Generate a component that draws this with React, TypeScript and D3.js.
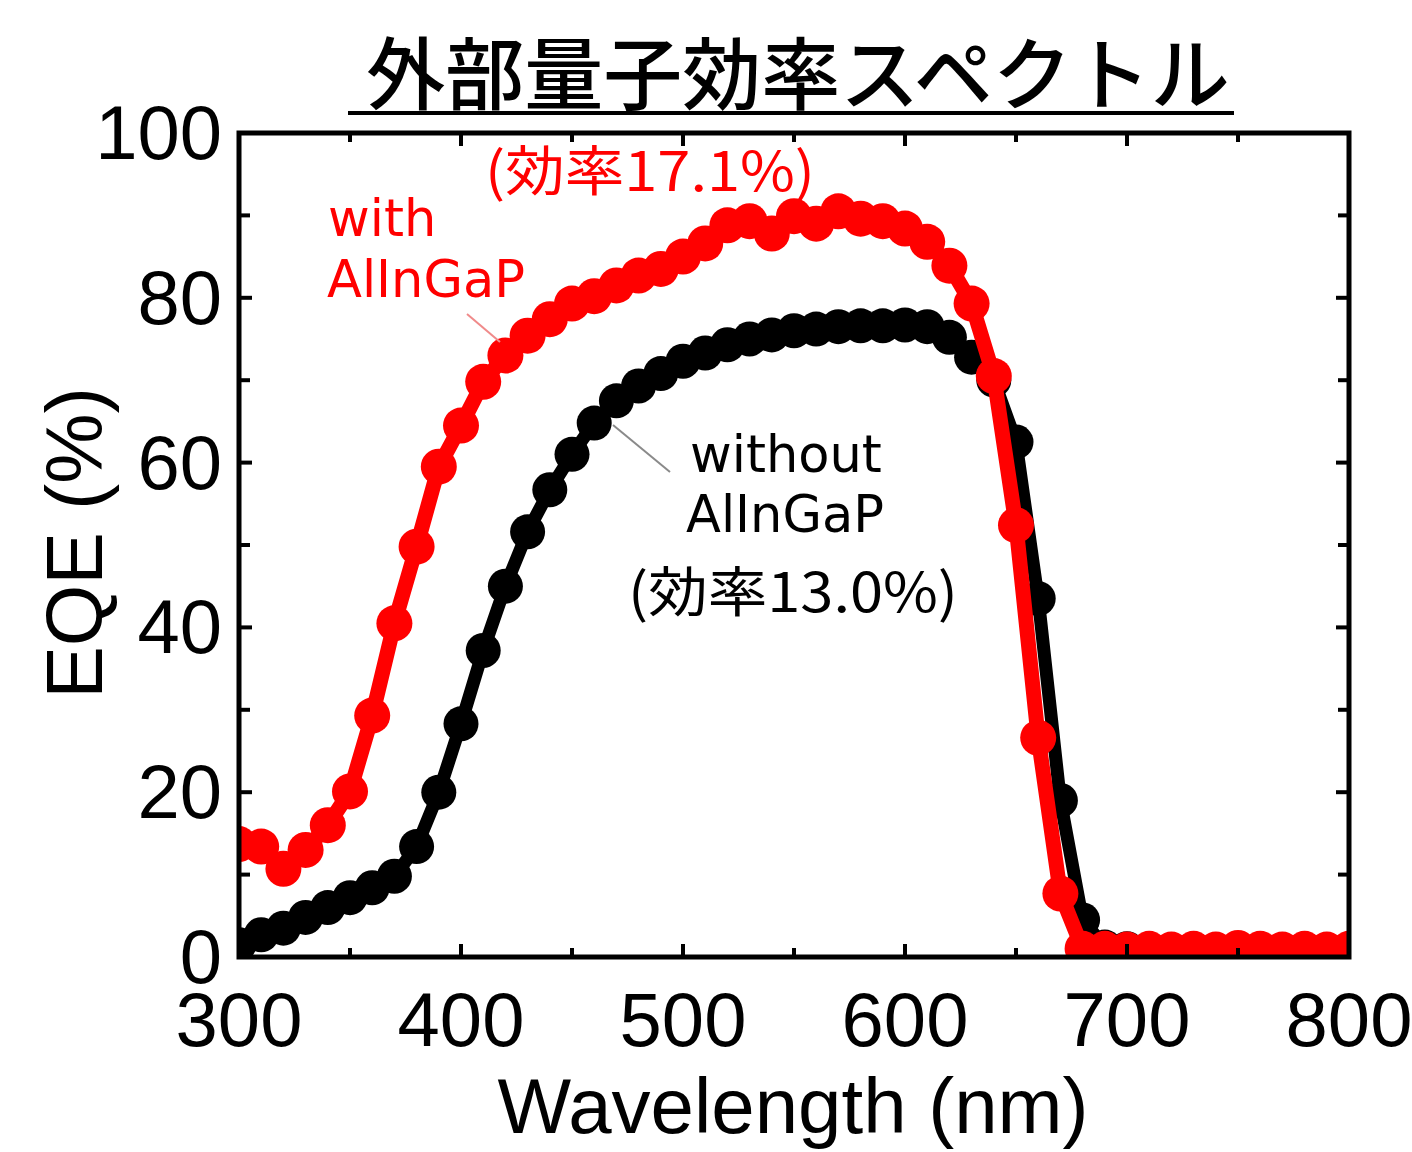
import React, { useEffect, useRef } from 'react';
import * as d3 from 'd3';

// wavelength grid (nm), 10 nm steps
const wavelengths = d3.range(300, 801, 10);

// EQE (%) with AlInGaP
const eqeWith = [
  13.7, 13.4, 10.7, 13.0, 16.0, 20.1, 29.3, 40.5, 49.8, 59.5,
  64.5, 69.8, 73.0, 75.4, 77.4, 79.3, 80.2, 81.5, 82.7, 83.5,
  85.0, 86.6, 88.8, 89.3, 87.8, 89.9, 89.0, 90.5, 89.6, 89.3,
  88.4, 86.8, 83.9, 79.3, 70.5, 52.4, 26.6, 7.7, 1.0, 1.0,
  0.9, 1.0, 0.9, 1.0, 0.9, 1.1, 1.0, 0.9, 1.0, 0.9, 1.0,
];

// EQE (%) without AlInGaP
const eqeWithout = [
  1.5, 2.7, 3.5, 4.8, 6.0, 7.2, 8.4, 9.8, 13.4, 20.0,
  28.3, 37.2, 45.0, 51.6, 56.7, 61.0, 64.8, 67.5, 69.3, 70.8,
  72.3, 73.3, 74.3, 75.0, 75.5, 76.0, 76.2, 76.5, 76.6, 76.6,
  76.7, 76.5, 75.2, 72.8, 70.0, 62.5, 43.5, 19.0, 4.5, 1.2,
  1.0, 0.8, 0.6, 0.6, 0.6, 0.6, 0.6, 0.6, 0.6, 0.6, 0.6,
];

const xMajor = [300, 400, 500, 600, 700, 800];
const xMinor = [350, 450, 550, 650, 750];
const yMajor = [0, 20, 40, 60, 80, 100];
const yMinor = [10, 30, 50, 70, 90];

const TITLE = '外部量子効率スペクトル';
const X_LABEL = 'Wavelength (nm)';
const Y_LABEL = 'EQE (%)';

const W = 1412;
const H = 1152;
const PLOT = { left: 239, right: 1349, top: 133, bottom: 957 };
const LATIN = '"Liberation Sans", Arial, sans-serif';
const VERDANA = '"DejaVu Sans", Verdana, sans-serif';
const CJK = '"Noto Sans CJK JP", "Noto Sans CJK SC", sans-serif';

const App: React.FC = () => {
  const svgRef = useRef<SVGSVGElement>(null);

  useEffect(() => {
    const svg = d3.select(svgRef.current);
    svg.selectAll('*').remove();

    const x = d3.scaleLinear().domain([300, 800]).range([PLOT.left, PLOT.right]);
    const y = d3.scaleLinear().domain([0, 100]).range([PLOT.bottom, PLOT.top]);

    svg.append('rect').attr('width', W).attr('height', H).attr('fill', '#fff');

    // clip to plot frame
    svg.append('defs').append('clipPath').attr('id', 'plot-clip')
      .append('rect')
      .attr('x', PLOT.left).attr('y', PLOT.top)
      .attr('width', PLOT.right - PLOT.left).attr('height', PLOT.bottom - PLOT.top);

    const plot = svg.append('g').attr('clip-path', 'url(#plot-clip)');

    const series = [
      { values: eqeWithout, color: '#000000', lw: 13, r: 17.5 },
      { values: eqeWith, color: '#ff0000', lw: 15, r: 18 },
    ];

    const line = d3.line<number>()
      .x((_, i) => x(wavelengths[i]))
      .y(d => y(d));

    series.forEach(s => {
      const g = plot.append('g');
      g.append('path')
        .datum(s.values)
        .attr('d', line)
        .attr('fill', 'none')
        .attr('stroke', s.color)
        .attr('stroke-width', s.lw)
        .attr('stroke-linejoin', 'round');
      g.selectAll('circle')
        .data(s.values)
        .enter()
        .append('circle')
        .attr('cx', (_, i) => x(wavelengths[i]))
        .attr('cy', d => y(d))
        .attr('r', s.r)
        .attr('fill', s.color);
    });

    // frame
    svg.append('rect')
      .attr('x', PLOT.left).attr('y', PLOT.top)
      .attr('width', PLOT.right - PLOT.left).attr('height', PLOT.bottom - PLOT.top)
      .attr('fill', 'none').attr('stroke', '#000').attr('stroke-width', 5);

    // inward ticks on all four sides
    const ticks = svg.append('g').attr('stroke', '#000').attr('stroke-width', 4);
    const xTicks = [...xMajor.map(v => ({ v, len: 13 })), ...xMinor.map(v => ({ v, len: 9 }))];
    xTicks.forEach(t => {
      ticks.append('line').attr('x1', x(t.v)).attr('x2', x(t.v))
        .attr('y1', PLOT.bottom).attr('y2', PLOT.bottom - t.len);
      ticks.append('line').attr('x1', x(t.v)).attr('x2', x(t.v))
        .attr('y1', PLOT.top).attr('y2', PLOT.top + t.len);
    });
    const yTicks = [...yMajor.map(v => ({ v, len: 13 })), ...yMinor.map(v => ({ v, len: 11 }))];
    yTicks.forEach(t => {
      ticks.append('line').attr('y1', y(t.v)).attr('y2', y(t.v))
        .attr('x1', PLOT.left).attr('x2', PLOT.left + t.len);
      ticks.append('line').attr('y1', y(t.v)).attr('y2', y(t.v))
        .attr('x1', PLOT.right).attr('x2', PLOT.right - t.len);
    });

    // tick labels
    svg.append('g').selectAll('text')
      .data(xMajor).enter().append('text')
      .attr('x', d => x(d)).attr('y', 1046)
      .attr('text-anchor', 'middle')
      .style('font-family', LATIN).style('font-size', '76px')
      .text(d => d);

    svg.append('g').selectAll('text')
      .data(yMajor).enter().append('text')
      .attr('x', 222).attr('y', d => y(d) + 26)
      .attr('text-anchor', 'end')
      .style('font-family', LATIN).style('font-size', '76px')
      .text(d => d);

    // axis titles
    svg.append('text')
      .attr('x', 793).attr('y', 1133)
      .attr('text-anchor', 'middle')
      .style('font-family', LATIN).style('font-size', '78px')
      .text(X_LABEL);

    svg.append('text')
      .attr('transform', 'translate(102,543) rotate(-90)')
      .attr('text-anchor', 'middle')
      .style('font-family', LATIN).style('font-size', '79px')
      .text(Y_LABEL);

    // title with underline
    svg.append('text')
      .attr('x', 798).attr('y', 104)
      .attr('text-anchor', 'middle')
      .style('font-family', CJK).style('font-size', '79px').style('font-weight', 500)
      .text(TITLE);
    svg.append('line')
      .attr('x1', 348).attr('x2', 1234).attr('y1', 113).attr('y2', 113)
      .attr('stroke', '#000').attr('stroke-width', 4);

    // annotations
    svg.append('line')
      .attr('x1', 467).attr('y1', 314).attr('x2', 500).attr('y2', 342)
      .attr('stroke', '#f08a8a').attr('stroke-width', 2);
    svg.append('line')
      .attr('x1', 613).attr('y1', 425).attr('x2', 670).attr('y2', 472)
      .attr('stroke', '#8a8a8a').attr('stroke-width', 2);

    const note = (txt: string, px: number, py: number, color: string, font: string, size: number, len?: number) => {
      const t = svg.append('text')
        .attr('x', px).attr('y', py)
        .attr('fill', color)
        .style('font-family', font).style('font-size', `${size}px`)
        .text(txt);
      if (len) t.attr('textLength', len).attr('lengthAdjust', 'spacingAndGlyphs');
    };

    note('(効率17.1%)', 485, 191, '#ff0000', CJK, 54, 330);
    note('with', 328, 236, '#ff0000', VERDANA, 51);
    note('AlInGaP', 327, 297, '#ff0000', VERDANA, 51);
    note('without', 690, 472, '#000000', VERDANA, 51);
    note('AlInGaP', 686, 532, '#000000', VERDANA, 51);
    note('(効率13.0%)', 628, 612, '#000000', CJK, 54, 330);
  }, []);

  return (
    <svg
      ref={svgRef}
      width={W}
      height={H}
      style={{ position: 'absolute', left: 0, top: 0 }}
    />
  );
};

export default App;
